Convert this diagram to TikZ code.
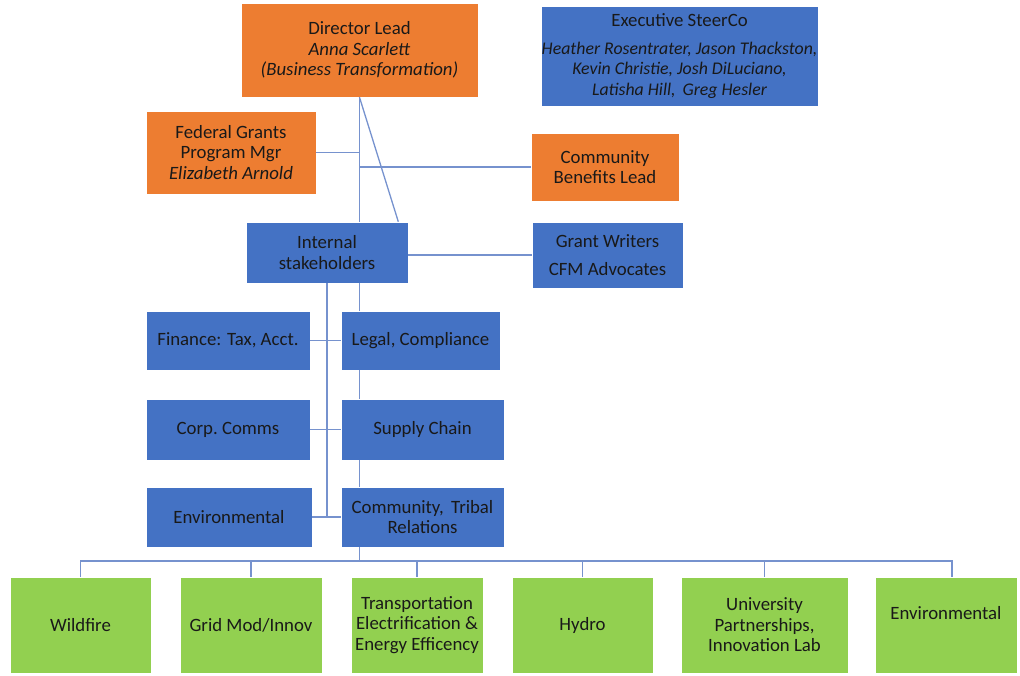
\documentclass[tikz,border=0pt]{standalone}
\usepackage{fontspec}
\setmainfont{Carlito}
\usepackage{tikz}
\usetikzlibrary{positioning,calc}
\definecolor{ogorange}{RGB}{237,125,49}
\definecolor{ogblue}{RGB}{68,114,196}
\definecolor{oggreen}{RGB}{146,208,80}
\definecolor{oglink}{RGB}{118,146,206}
\tikzstyle{orgbox} = [draw=white, line width=0.6pt, align=center, inner sep=0pt, text=black!90, font=\fontsize{18.8}{20.5}\selectfont]
\tikzstyle{leadbox} = [orgbox, fill=ogorange]
\tikzstyle{teambox} = [orgbox, fill=ogblue]
\tikzstyle{areabox} = [orgbox, fill=oggreen, minimum height=96pt]
\tikzstyle{link} = [oglink, line width=1.3pt]
\newcommand{\steername}[1]{{\fontsize{17.8}{20}\selectfont\itshape #1}}

\begin{document}
\begin{tikzpicture}[x=1pt, y=-1pt]
\useasboundingbox (0,0) rectangle (1020,675);

% Leads
\node[leadbox, minimum width=237pt, minimum height=94pt] (dirlead) at (359.5,50) {Director Lead\\ \textit{Anna Scarlett}\\ \textit{(Business Transformation)}};
\node[teambox, minimum width=277pt, minimum height=100pt] (steerco) at (679.5,56) {Executive SteerCo\\[7pt] \steername{Heather Rosentrater, Jason Thackston,}\\ \steername{Kevin Christie, Josh DiLuciano,}\\ \steername{Latisha Hill,\, Greg Hesler}};
\node[leadbox, minimum width=170pt, minimum height=83pt] (fedgrants) at (231,152.5) {Federal Grants\\ Program Mgr\\ \textit{Elizabeth Arnold}};
\node[leadbox, minimum width=148pt, minimum height=68pt] (commlead) at (605,167) {Community\\ Benefits Lead};

% Stakeholders
\node[teambox, minimum width=162pt, minimum height=61pt] (internal) at (327,252.5) {Internal\\ stakeholders};
\node[teambox, minimum width=151pt, minimum height=66pt] (writers) at (607.5,255) {Grant Writers\\[8pt] CFM Advocates};
\node[teambox, minimum width=164pt, minimum height=59pt] (finance) at (228,340.5) {Finance: Tax, Acct.};
\node[teambox, minimum width=159pt, minimum height=59pt] (legal) at (420.5,340.5) {Legal, Compliance};
\node[teambox, minimum width=164pt, minimum height=61pt] (comms) at (228,429.5) {Corp.\ Comms};
\node[teambox, minimum width=163pt, minimum height=61pt] (supply) at (422.5,429.5) {Supply Chain};
\node[teambox, minimum width=166pt, minimum height=60pt] (enviro) at (229,517) {Environmental};
\node[teambox, minimum width=163pt, minimum height=60pt] (tribal) at (422.5,517) {Community,\, Tribal\\ Relations};

% Focus areas
\node[areabox, minimum width=141pt] (wildfire) at (80.5,625) {Wildfire};
\node[areabox, minimum width=142pt] (gridmod) at (251,625) {Grid Mod/Innov};
\node[areabox, minimum width=132pt] (transport) at (417,625) {Transportation\\ Electrification \&\\ Energy Efficency};
\node[areabox, minimum width=141pt] (hydro) at (582.5,625) {Hydro};
\node[areabox, minimum width=167pt] (univ) at (764.5,625) {University\\ Partnerships,\\ Innovation Lab};
\node[areabox, minimum width=142pt] (envarea) at (946,625) {Environmental\\[4pt] \mbox{}};
\coordinate (bus) at (0,561);

% Lines
\draw[link] (dirlead.south) -- (dirlead.south |- internal.north);
\draw[link] (dirlead.south) -- ($(internal.north east)+(-10,0)$);
\draw[link] (fedgrants.east) -- (fedgrants.east -| dirlead.south);
\draw[link] (commlead.west) -- (commlead.west -| dirlead.south);
\draw[link] (writers.west) -- (writers.west -| internal.east);
\draw[link] (internal.south) -- (internal.south |- enviro.east);
\draw[link] (finance.east) -- (legal.west);
\draw[link] (comms.east) -- (supply.west);
\draw[link] (enviro.east) -- (tribal.west);
\draw[link] (internal.south -| dirlead.south) -- (legal.north -| dirlead.south);
\draw[link] (legal.south -| dirlead.south) -- (supply.north -| dirlead.south);
\draw[link] (supply.south -| dirlead.south) -- (tribal.north -| dirlead.south);
\draw[link] (tribal.south -| dirlead.south) -- (bus -| dirlead.south);
\draw[link] (wildfire.north) -- (wildfire.north |- bus) -- ([xshift=6pt]envarea.north |- bus) -- ([xshift=6pt]envarea.north);
\foreach \area in {gridmod,transport,hydro,univ}
  \draw[link] (\area.north) -- (\area.north |- bus);
\end{tikzpicture}
\end{document}
